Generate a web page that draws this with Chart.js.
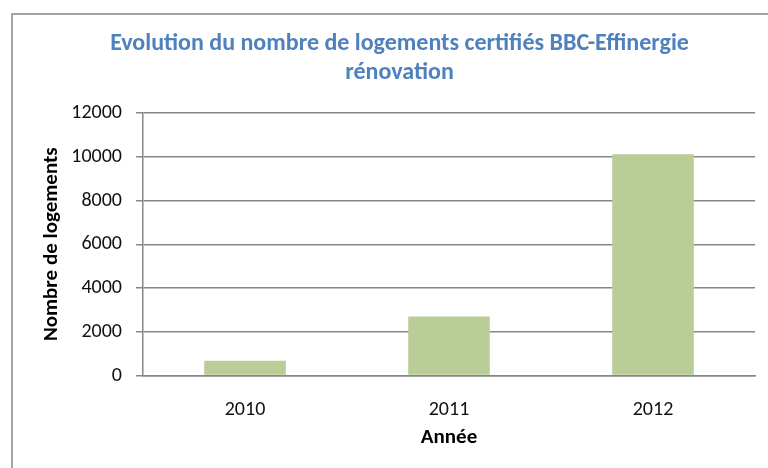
<!DOCTYPE html>
<html>
<head>
<meta charset="utf-8">
<script src="https://cdn.jsdelivr.net/npm/chart.js@4/dist/chart.umd.min.js"></script>
<style>
  html, body { margin: 0; padding: 0; background: #ffffff; overflow: hidden; }
  #frame { position: absolute; left: 11px; top: 13px; width: 800px; height: 500px; border: 2px solid #a3a3a3; box-sizing: border-box; }
  #c { position: absolute; left: 0; top: 0; }
</style>
</head>
<body>
<div id="frame"></div>
<canvas id="c" width="768" height="468"></canvas>
<script>
const categories = ['2010', '2011', '2012'];
const logements = [670, 2700, 10110];
const yTicks = [0, 2000, 4000, 6000, 8000, 10000, 12000];
const titleLines = ['Evolution du nombre de logements certifiés BBC-Effinergie', 'rénovation'];
const yTitle = 'Nombre de logements';
const xTitle = 'Année';

const FONT = 'Carlito, Lato, "Open Sans", sans-serif';
const GRID = '#868686';

new Chart(document.getElementById('c'), {
  type: 'bar',
  data: {
    labels: categories,
    datasets: [{
      data: logements,
      backgroundColor: '#b9cd96',
      borderWidth: 0,
      barPercentage: 0.4,
      categoryPercentage: 1.0
    }]
  },
  options: {
    responsive: false,
    devicePixelRatio: 1,
    animation: false,
    layout: { padding: { left: 44, right: 13, top: 0, bottom: 0 } },
    plugins: {
      legend: { display: false },
      tooltip: { enabled: false },
      title: {
        display: true,
        text: titleLines,
        color: '#4f81bd',
        font: { family: FONT, size: 24, weight: 'bold', lineHeight: 1.2 },
        padding: { top: 29.6, bottom: 25.8 }
      }
    },
    scales: {
      x: {
        grid: { display: false },
        border: { display: true, color: GRID, width: 1.5 },
        ticks: { color: '#111111', font: { family: FONT, size: 20 }, padding: 14.5 },
        title: {
          display: true, text: xTitle, color: '#000000',
          font: { family: FONT, size: 21, weight: 'bold' },
          padding: { top: 0, bottom: 17.4 }
        },
        afterFit: (s) => { s.height = 92.5; }
      },
      y: {
        min: 0, max: 12000,
        afterBuildTicks: (s) => { s.ticks = yTicks.map(v => ({ value: v })); },
        grid: { color: GRID, lineWidth: 1.5, drawTicks: true, tickLength: 7, tickColor: GRID },
        border: { display: true, color: GRID, width: 1.5 },
        ticks: { color: '#111111', font: { family: FONT, size: 20 }, padding: 14, callback: (v) => String(v) },
        title: {
          display: true, text: yTitle, color: '#000000',
          font: { family: FONT, size: 21, weight: 'bold' },
          padding: { top: -4.6, bottom: 0 }
        },
        afterFit: (s) => { s.width = 99; }
      }
    }
  }
});
</script>
</body>
</html>
